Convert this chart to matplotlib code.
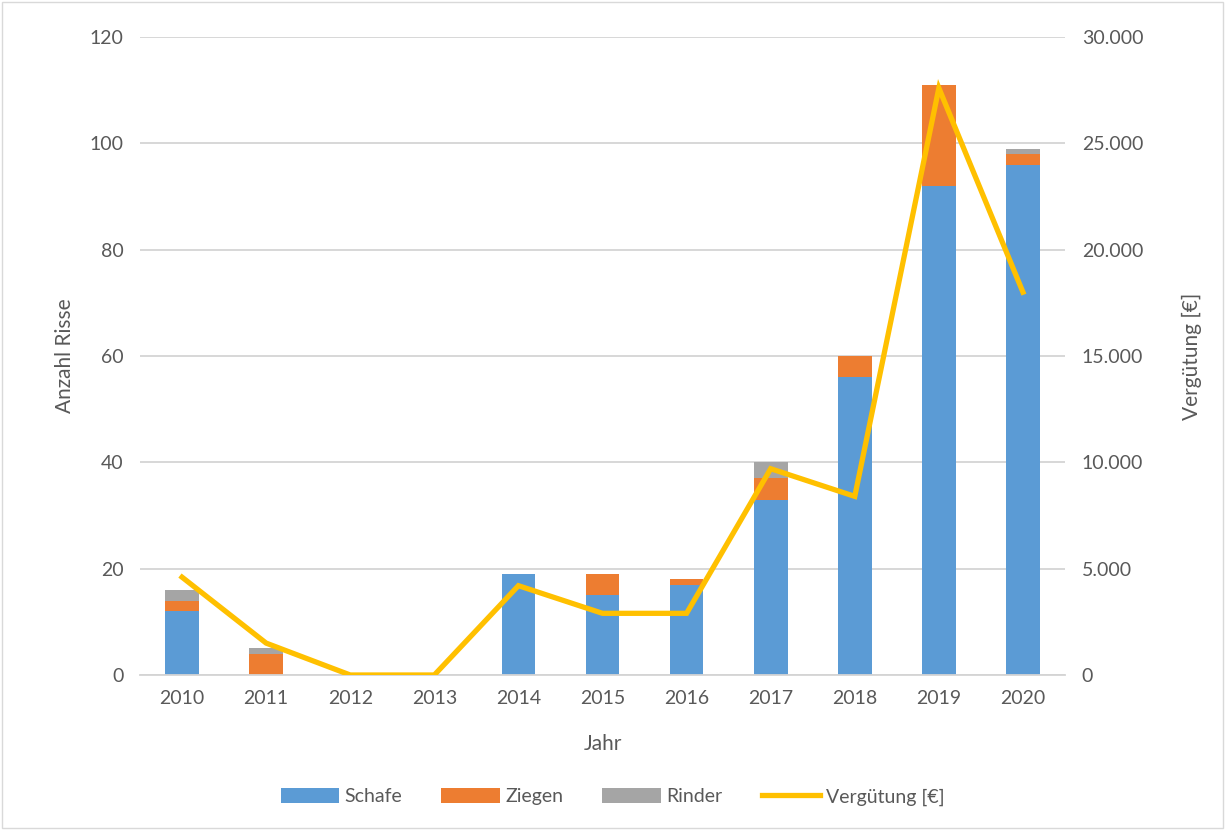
import numpy as np
import matplotlib.pyplot as plt
from matplotlib.ticker import FuncFormatter

jahre = ['2010', '2011', '2012', '2013', '2014', '2015', '2016', '2017', '2018', '2019', '2020']
schafe = [12, 0, 0, 0, 19, 15, 17, 33, 56, 92, 96]
ziegen = [2, 4, 0, 0, 0, 4, 1, 4, 4, 19, 2]
rinder = [2, 1, 0, 0, 0, 0, 0, 3, 0, 0, 1]
verguetung = [4600, 1500, 0, 0, 4200, 2900, 2900, 9700, 8400, 27600, 18000]

plt.rcParams['font.family'] = ['Lato', 'DejaVu Sans']
grau = '#595959'

fig = plt.figure(figsize=(12.25, 8.3), dpi=100)
ax = fig.add_axes([140 / 1225, 1 - 675 / 830, 925 / 1225, 638 / 830])
ax2 = ax.twinx()

x = np.arange(len(jahre))
s = np.array(schafe)
z = np.array(ziegen)
r = np.array(rinder)
b1 = ax.bar(x, s, width=0.4, color='#5B9BD5', label='Schafe', zorder=2)
b2 = ax.bar(x, z, width=0.4, bottom=s, color='#ED7D31', label='Ziegen', zorder=2)
b3 = ax.bar(x, r, width=0.4, bottom=s + z, color='#A5A5A5', label='Rinder', zorder=2)
ln, = ax2.plot(x, verguetung, color='#FFC000', lw=3.8, label='Vergütung [€]',
               solid_joinstyle='miter', zorder=3)

ax.set_xlim(-0.5, len(jahre) - 0.5)
ax.set_ylim(0, 120)
ax.set_yticks(range(0, 121, 20))
ax2.set_ylim(0, 30000)
ax2.set_yticks(range(0, 30001, 5000))
ax2.yaxis.set_major_formatter(FuncFormatter(lambda v, p: f'{int(v):,}'.replace(',', '.')))
ax.set_xticks(x)
ax.set_xticklabels(jahre)

ax.grid(axis='y', color='#d4d4d4', lw=1.3, zorder=0)
ax.set_axisbelow(True)
for a in (ax, ax2):
    for sp in a.spines.values():
        sp.set_visible(False)
    a.tick_params(length=0, labelsize=14, colors=grau, pad=12)
ax.spines['bottom'].set_visible(True)
ax.spines['bottom'].set_color('#d4d4d4')
ax.spines['bottom'].set_linewidth(1.3)
ax.tick_params(axis='x', pad=11)

ax.set_xlabel('Jahr', fontsize=15, color=grau, labelpad=19)
ax.set_ylabel('Anzahl Risse', fontsize=15, color=grau, labelpad=10)
ax2.set_ylabel('Vergütung [€]', fontsize=15, color=grau, labelpad=28)

fig.legend(handles=[b1, b2, b3, ln], loc='center', bbox_to_anchor=(0.5, 1 - 797 / 830),
           ncol=4, frameon=False, fontsize=14, labelcolor=grau,
           handlelength=3.0, handleheight=0.8, columnspacing=2.0, handletextpad=0.3)

fig.patches.append(plt.Rectangle((0.002, 0.002), 0.996, 0.996, transform=fig.transFigure,
                                 fill=False, edgecolor='#d9d9d9', lw=1))
fig.savefig('out.png', dpi=100)
